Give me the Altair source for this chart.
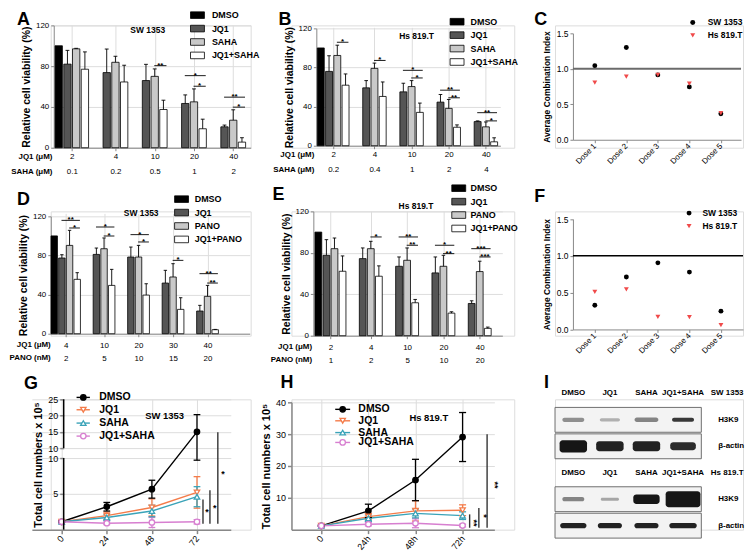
import json

import altair as alt
import pandas as pd

FONT = "Liberation Sans"
ONE = pd.DataFrame({"k": [0]})

# ---------------- A, B, D, E: relative cell viability (%), mean and SD ----------------
bar_colors = ["black", "#555555", "#c9c9c9", "white"]

a_jq1_dose = ["2", "4", "10", "20", "40"]
a_drug_dose = ["0.1", "0.2", "0.5", "1", "2"]
a_dmso = [100]
a_jq1 = [82, 73.7, 65.9, 43.4, 20.5]
a_jq1_sd = [13.5, 23.1, 15.9, 8.4, 1.7]
a_drug = [97, 83.8, 70, 45, 27]
a_drug_sd = [0.5, 5.9, 7.3, 12.7, 10.2]
a_combo = [77, 64.5, 37.5, 18.6, 5.5]
a_combo_sd = [17, 16.4, 9.1, 9.4, 4.3]
# (dose group, first bar, last bar, height, stars); bars: 1 = JQ1, 2 = HDACi, 3 = combination
a_sig = [(2, 2, 3, 80.5, "**"), (3, 1, 3, 70.7, "*"), (3, 2, 3, 60.3, "*"),
         (4, 1, 3, 49.6, "**"), (4, 2, 3, 39.8, "*")]

b_jq1_dose = ["2", "4", "10", "20", "40"]
b_drug_dose = ["0.2", "0.4", "1", "2", "4"]
b_dmso = [100]
b_jq1 = [76, 59.2, 55.1, 44.6, 24.7]
b_jq1_sd = [16, 7.4, 8.8, 7.8, 0.7]
b_drug = [92.3, 79.1, 60.5, 38.2, 19.3]
b_drug_sd = [10.5, 5.4, 6.1, 9.1, 5]
b_combo = [61.9, 50.4, 34.1, 18.9, 4]
b_combo_sd = [11.5, 14.8, 9.5, 2.4, 4.1]
b_sig = [(0, 2, 3, 105.8, "*"), (1, 2, 3, 87.2, "*"), (2, 1, 3, 77.1, "*"), (2, 2, 3, 69.3, "*"),
         (3, 1, 3, 56.8, "**"), (3, 2, 3, 49, "**"), (4, 1, 3, 33.8, "**"), (4, 2, 3, 25.4, "*")]

d_jq1_dose = ["4", "10", "20", "30", "40"]
d_drug_dose = ["2", "5", "10", "15", "20"]
d_dmso = [100]
d_jq1 = [77.4, 81.1, 78.4, 51.8, 23.2]
d_jq1_sd = [3.4, 6.5, 10.2, 13, 5.8]
d_drug = [90.3, 86.9, 78.4, 58, 38.2]
d_drug_sd = [15.4, 11, 11.9, 13.6, 11.2]
d_combo = [55.6, 49.4, 39.5, 24.9, 4.1]
d_combo_sd = [6.8, 16.4, 11.6, 11.9, 0.3]
d_sig = [(0, 1, 3, 115.9, "**"), (0, 2, 3, 108.1, "*"), (1, 1, 3, 109.1, "*"), (1, 2, 3, 99.9, "*"),
         (2, 1, 3, 101.3, "*"), (2, 2, 3, 93.8, "*"), (3, 2, 3, 75, "*"),
         (4, 1, 3, 61.4, "**"), (4, 2, 3, 51.8, "**")]

e_jq1_dose = ["2", "4", "10", "20", "40"]
e_drug_dose = ["1", "2", "5", "10", "20"]
e_dmso = [100]
e_jq1 = [77.6, 74.4, 67, 60.6, 31.1]
e_jq1_sd = [15.1, 10.3, 9, 15.4, 2.6]
e_drug = [84, 84, 72.8, 67, 61.9]
e_drug_sd = [10.3, 7.1, 11.9, 10.6, 10]
e_combo = [62.2, 57.4, 31.8, 21.8, 7.1]
e_combo_sd = [14.8, 10, 3.2, 1.3, 1.2]
e_sig = [(1, 2, 3, 95.3, "*"), (2, 1, 3, 95.3, "**"), (2, 2, 3, 87.3, "**"), (3, 1, 3, 87.3, "*"),
         (3, 2, 3, 79.2, "**"), (4, 1, 3, 84, "***"), (4, 2, 3, 76, "***")]

# ---------------- C, F: average combination index ----------------
ci_doses = [1, 2, 3, 4, 5]
ci_cells = ["SW 1353", "Hs 819.T"]
c_sw = [1.045, 1.30, 0.914, 0.745, 0.366]
c_hs = [0.806, 0.89, 0.914, 0.79, 0.375]
f_sw = [0.329, 0.712, 0.905, 0.779, 0.248]
f_hs = [0.509, 0.545, 0.171, 0.167, 0.059]

# ---------------- G, H: total cell numbers (x 10^5) ----------------
hours = [0, 24, 48, 72]
growth_series = ["DMSO", "JQ1", "SAHA", "JQ1+SAHA"]
growth_colors = ["black", "#f47c4a", "#3aa3b8", "#d77fd0"]
g_mean = [[1.1, 3.2, 5.65, 15.0], [1.1, 1.95, 3.1, 5.2], [1.1, 1.7, 2.6, 4.6], [1.1, 0.9, 1.0, 1.1]]
g_sd = [[0.1, 0.6, 1.25, 5.3], [0.1, 0.5, 1.2, 2.2], [0.1, 0.4, 0.8, 1.4], [0.1, 0.2, 0.7, 0.3]]
g_sig = [(0.83, 4.2, "*"), (0.83, 5.5, "*"), (0.83, 14.9, "*")]
h_mean = [[1.2, 5.9, 15.6, 29.1], [1.2, 4.1, 5.9, 6.1], [1.2, 3.6, 5.1, 4.4], [1.2, 1.7, 2.0, 1.3]]
h_sd = [[0.2, 2.1, 6.5, 7.7], [0.2, 1.0, 3.2, 1.7], [0.2, 1.0, 1.4, 1.2], [0.2, 0.5, 1.4, 0.4]]
h_sig = [(0.6, 4.8, "**"), (0.6, 6.8, "*"), (0.6, 30.0, "**")]

# ---------------- I: western blot ----------------
blot_lanes = ["DMSO", "JQ1", "SAHA", "JQ1+SAHA"]
blot_cells = ["SW 1353", "Hs 819.T"]
blot_targets = ["H3K9", "β-actin", "H3K9", "β-actin"]
band_dark = [[0.45, 0.3, 0.5, 0.85], [1.0, 0.95, 0.95, 0.9], [0.5, 0.35, 1.0, 1.0], [0.95, 0.95, 0.95, 0.95]]
band_wide = [[0.6, 0.55, 0.65, 0.6], [0.75, 0.75, 0.75, 0.7], [0.6, 0.5, 0.72, 0.95], [0.72, 0.66, 0.66, 0.75]]
band_thick = [[0.16, 0.13, 0.17, 0.15], [0.46, 0.38, 0.38, 0.3], [0.16, 0.12, 0.36, 0.6], [0.2, 0.2, 0.2, 0.2]]

SWATCH = "M-2,-0.95H2V0.95H-2Z"


def letter_mark(letter, dx, dy):
    return alt.Chart(ONE).mark_text(
        text=letter, font=FONT, fontSize=18, fontWeight="bold", align="left", baseline="alphabetic", color="black"
    ).encode(x=alt.value(dx), y=alt.value(dy))


def bar_panel(letter, cell, drug, unit, jq1_dose, drug_dose, dmso, means, sds, sig, g):
    names = ["DMSO", "JQ1", drug, "JQ1+" + drug]
    rows = [dict(grp=0, slot=0, trt=names[0], mean=dmso[0], sd=0.0)]
    for s in range(3):
        for k in range(len(jq1_dose)):
            rows.append(dict(grp=k, slot=s + 1, trt=names[s + 1], mean=means[s][k], sd=sds[s][k]))
    df = pd.DataFrame(rows)
    sig_df = pd.DataFrame(sig, columns=["grp", "s0", "s1", "level", "label"])

    ticks = [1.5] + [k * 4.5 + 2 for k in range(1, len(jq1_dose))]
    labels = json.dumps([[a, b] for a, b in zip(jq1_dose, drug_dose)])
    x_axis = alt.Axis(
        values=ticks, labelExpr=f"{labels}[indexof({json.dumps(ticks)}, datum.value)]",
        labelFontSize=g["fs"], labelLineHeight=g["lh"], labelPadding=g["lp"], labelOverlap=False,
        labelFlush=False, tickSize=3, offset=g["xoff"], title=None,
    )
    y_axis = alt.Axis(values=[0, 40, 80, 120], title="Relative cell viability (%)", titleFontSize=10.5,
                      labelFontSize=g["fs"], tickSize=3, offset=-g["xr"][0], titlePadding=4)
    xs = alt.Scale(domain=g["xdom"], range=g["xr"], nice=False, zero=False)
    ys = alt.Scale(domain=[0, 120], range=g["yr"], nice=False, zero=False)

    def X(f):
        return alt.X(f"{f}:Q", scale=xs, axis=x_axis)

    def Y(f):
        return alt.Y(f"{f}:Q", scale=ys, axis=y_axis)

    base = alt.Chart(df).transform_calculate(pos="datum.grp * 4.5 + datum.slot").transform_calculate(
        x0="datum.pos - 0.42", x1="datum.pos + 0.42", top="datum.mean + datum.sd",
        c0="datum.pos - 0.22", c1="datum.pos + 0.22")
    legend = alt.Legend(orient="none", legendX=g["lx"], legendY=g["ly"], title=None, symbolType=SWATCH,
                        symbolSize=49, symbolStrokeColor="black", symbolStrokeWidth=0.8, labelFontSize=9,
                        labelFont=FONT, labelFontWeight="bold", labelOffset=g["lo"], rowPadding=2.5, padding=0)
    bars = base.mark_rect(stroke="black", strokeWidth=0.8).encode(
        x=X("x0"), x2="x1:Q", y=Y("mean"), y2=alt.datum(0),
        fill=alt.Fill("trt:N", scale=alt.Scale(domain=names, range=bar_colors), legend=legend))
    err = base.transform_filter("datum.sd > 0").mark_rule(color="black", strokeWidth=0.9).encode(
        x=X("pos"), y=Y("mean"), y2="top:Q")
    caps = base.transform_filter("datum.sd > 0").mark_rule(color="black", strokeWidth=0.9).encode(
        x=X("c0"), x2="c1:Q", y=Y("top"))
    sb = alt.Chart(sig_df).transform_calculate(
        p0="datum.grp * 4.5 + datum.s0 - 0.05", p1="datum.grp * 4.5 + datum.s1 + 0.35").transform_calculate(
        pm="(datum.p0 + datum.p1) / 2")
    sig_lines = sb.mark_rule(color="black", strokeWidth=0.9).encode(x=X("p0"), x2="p1:Q", y=Y("level"))
    stars = sb.mark_text(font=FONT, fontSize=8, fontWeight="bold", baseline="alphabetic", dy=2).encode(
        x=X("pm"), y=Y("level"), text="label:N")
    cell_txt = alt.Chart(ONE).mark_text(text=cell, font=FONT, fontSize=8.5, fontWeight="bold").encode(
        x=alt.X(datum=g["cell"][0], scale=xs, axis=x_axis), y=alt.Y(datum=g["cell"][1], scale=ys, axis=y_axis))
    header = alt.Chart(ONE).mark_text(
        text=["JQ1 (μM)", f"{drug} ({unit})"], lineHeight=g["lh"], font=FONT, fontSize=g["fs"],
        fontWeight="bold", align="right", baseline="top").encode(
        x=alt.value(g["tx"]), y=alt.value(g["yr"][0] + 3 + g["lp"]))
    return alt.layer(bars, err, caps, sig_lines, stars, cell_txt, header,
                     letter_mark(letter, *g["letter"])).properties(width=g["w"], height=g["h"])


def ci_panel(letter, sw, hs, line_color, line_width, g):
    df = pd.DataFrame({"dose": ci_doses * 2, "ci": sw + hs,
                       "cell": [ci_cells[0]] * len(sw) + [ci_cells[1]] * len(hs)})
    xs = alt.Scale(domain=g["xdom"], range=g["xr"], nice=False, zero=False)
    ys = alt.Scale(domain=[0, 1.5], range=g["yr"], nice=False, zero=False)
    x_axis = alt.Axis(values=ci_doses, labelExpr="'Dose ' + datum.value", labelAngle=-45, labelAlign="right",
                      labelBaseline="middle", labelFontSize=8, labelPadding=2, tickSize=3, offset=g["xoff"],
                      title=None, labelFlush=False, labelOverlap=False)
    y_axis = alt.Axis(values=[0, 0.5, 1.0, 1.5], format=".1f", title="Average Combination Index",
                      titleFontSize=8.5, labelFontSize=8.5, tickSize=3, offset=-g["xr"][0], titlePadding=5)
    legend = alt.Legend(orient="none", legendX=g["lx"], legendY=g["ly"], title=None, symbolSize=25,
                        labelFontSize=8.5, labelFont=FONT, labelFontWeight="bold", labelOffset=g["lo"],
                        rowPadding=4, padding=0)
    hline = alt.Chart(ONE).mark_rule(color=line_color, strokeWidth=line_width).encode(
        x=alt.X(datum=g["xdom"][0], scale=xs, axis=x_axis), x2=alt.datum(g["xdom"][1]),
        y=alt.Y(datum=1.0, scale=ys, axis=y_axis))
    pts = alt.Chart(df).mark_point(filled=True, size=24, opacity=1).encode(
        x=alt.X("dose:Q", scale=xs, axis=x_axis), y=alt.Y("ci:Q", scale=ys, axis=y_axis),
        color=alt.Color("cell:N", scale=alt.Scale(domain=ci_cells, range=["black", "#f04a4a"]), legend=legend),
        shape=alt.Shape("cell:N", scale=alt.Scale(domain=ci_cells, range=["circle", "triangle-down"]),
                        legend=legend))
    return alt.layer(hline, pts, letter_mark(letter, *g["letter"])).properties(width=g["w"], height=g["h"])


def growth_panel(letter, cell, hour_expr, means, sds, sig, g):
    rows = []
    for s, name in enumerate(growth_series):
        for i, hr in enumerate(hours):
            rows.append(dict(series=name, hour=hr, mean=means[s][i], sd=sds[s][i]))
    df = pd.DataFrame(rows)
    xs = alt.Scale(domain=g["xdom"], range=g["xr"], nice=False, zero=False)
    ys = alt.Scale(domain=g["ydom"], range=g["yr"], nice=False, zero=False)
    x_axis = alt.Axis(values=hours, labelExpr=hour_expr, labelAngle=-50, labelAlign="right",
                      labelBaseline="middle", labelFontSize=9, labelPadding=3, tickSize=4, tickWidth=1.5,
                      domainWidth=1.5, title=None, labelFlush=False, labelOverlap=False)
    y_axis = alt.Axis(values=g["yticks"], labelExpr="format(floor(datum.value), 'd')",
                      title="Total cell numbers x 10⁵", titleFontSize=11, labelFontSize=9, tickSize=4,
                      tickWidth=1.5, domain=g["ydomain"], domainWidth=1.5, offset=g["yoff"], titlePadding=4,
                      labelOverlap=False)

    def X(f):
        return alt.X(f"{f}:Q", scale=xs, axis=x_axis)

    def Y(f):
        return alt.Y(f"{f}:Q", scale=ys, axis=y_axis)

    def XD(v):
        return alt.X(datum=v, scale=xs, axis=x_axis)

    def YD(v):
        return alt.Y(datum=v, scale=ys, axis=y_axis)

    stroke = alt.Stroke("series:N", scale=alt.Scale(domain=growth_series, range=growth_colors), legend=None)
    fill = alt.Fill("series:N", scale=alt.Scale(domain=growth_series, range=["black", "white", "white", "white"]),
                    legend=None)
    shape = alt.Shape("series:N", scale=alt.Scale(domain=growth_series,
                                                  range=["circle", "triangle-down", "triangle-up", "circle"]),
                      legend=None)
    base = alt.Chart(df).transform_calculate(
        lo="datum.mean - datum.sd", hi="datum.mean + datum.sd", c0="datum.hour - 1.8", c1="datum.hour + 1.8")
    lines = base.mark_line(strokeWidth=1.4).encode(x=X("hour"), y=Y("mean"), stroke=stroke)
    err = base.mark_rule(strokeWidth=1.3).encode(x=X("hour"), y=Y("lo"), y2="hi:Q", stroke=stroke)
    cap_hi = base.mark_rule(strokeWidth=1.3).encode(x=X("c0"), x2="c1:Q", y=Y("hi"), stroke=stroke)
    cap_lo = base.mark_rule(strokeWidth=1.3).encode(x=X("c0"), x2="c1:Q", y=Y("lo"), stroke=stroke)
    pts = base.mark_point(filled=True, size=30, opacity=1, strokeWidth=1.3).encode(
        x=X("hour"), y=Y("mean"), stroke=stroke, fill=fill, shape=shape)

    sig_df = pd.DataFrame(sig, columns=["lo", "hi", "label"])
    sig_df["bx"] = g["sig_x"]
    sig_df["sx"] = g["star_x"]
    sig_df["sy"] = g["star_y"]
    sig_bars = alt.Chart(sig_df).mark_rule(color="#333333", strokeWidth=1.4).encode(
        x=X("bx"), y=Y("lo"), y2="hi:Q")
    sig_txt = alt.Chart(sig_df).mark_text(font=FONT, fontSize=9, fontWeight="bold", angle=g["star_angle"]).encode(
        x=X("sx"), y=Y("sy"), text="label:N")

    leg = pd.DataFrame({"series": growth_series, "yy": g["leg_y"]})
    lx0, lx1, lxm, lxt = g["leg_x"]
    leg_line = alt.Chart(leg).mark_rule(strokeWidth=1.4).encode(
        x=XD(lx0), x2=alt.datum(lx1), y=Y("yy"), stroke=stroke)
    leg_pt = alt.Chart(leg).mark_point(filled=True, size=30, opacity=1, strokeWidth=1.3).encode(
        x=XD(lxm), y=Y("yy"), stroke=stroke, fill=fill, shape=shape)
    leg_txt = alt.Chart(leg).mark_text(font=FONT, fontSize=10.5, fontWeight="bold", align="left").encode(
        x=XD(lxt), y=Y("yy"), text="series:N")
    cell_txt = alt.Chart(ONE).mark_text(text=cell, font=FONT, fontSize=9.5, fontWeight="bold").encode(
        x=XD(g["cell"][0]), y=YD(g["cell"][1]))

    layers = [lines, err, cap_hi, cap_lo, pts, sig_bars, sig_txt, leg_line, leg_pt, leg_txt, cell_txt]
    if g.get("axis_at") is not None:
        seg = pd.DataFrame({"lo": [g["ydom"][0], g["ydom"][2]], "hi": [g["ydom"][1], g["ydom"][3]]})
        layers.append(alt.Chart(seg).mark_rule(color="black", strokeWidth=1.5).encode(
            x=XD(g["axis_at"]), y=Y("lo"), y2="hi:Q"))
    layers.append(letter_mark(letter, *g["letter"]))
    return alt.layer(*layers).properties(width=g["w"], height=g["h"])


def blot_panel(letter, g):
    strip_rows = [1, 2, 4, 5]
    header_rows = [0, 3]
    strips = pd.DataFrame({"row": strip_rows, "target": blot_targets})
    bands = pd.DataFrame([
        dict(row=strip_rows[r], lane=l, dark=band_dark[r][l], wide=band_wide[r][l], thick=band_thick[r][l])
        for r in range(len(strip_rows)) for l in range(len(blot_lanes))])
    heads = pd.DataFrame([dict(row=header_rows[c], lane=l, name=blot_lanes[l])
                          for c in range(len(blot_cells)) for l in range(len(blot_lanes))])
    cells = pd.DataFrame({"row": header_rows, "cell": blot_cells})
    xs = alt.Scale(domain=[-0.5, 4.64], range=[0, g["w"]], nice=False, zero=False)
    ys = alt.Scale(domain=[0, 5], range=[-6, 127], nice=False, zero=False)

    def X(f):
        return alt.X(f"{f}:Q", scale=xs, axis=None)

    def Y(f):
        return alt.Y(f"{f}:Q", scale=ys, axis=None)

    def XD(v):
        return alt.X(datum=v, scale=xs, axis=None)

    boxes = alt.Chart(strips).transform_calculate(y0="datum.row - 0.47", y1="datum.row + 0.47").mark_rect(
        fill="#f3f3f3", stroke="#6e6e6e", strokeWidth=1).encode(
        x=XD(-0.5), x2=alt.datum(len(blot_lanes) - 0.5), y=Y("y0"), y2="y1:Q")
    band = alt.Chart(bands).transform_calculate(
        x0="datum.lane - datum.wide / 2", x1="datum.lane + datum.wide / 2",
        y0="datum.row - datum.thick / 2", y1="datum.row + datum.thick / 2").mark_rect(
        fill="#161616", cornerRadius=3).encode(
        x=X("x0"), x2="x1:Q", y=Y("y0"), y2="y1:Q", opacity=alt.Opacity("dark:Q", scale=None))
    targets = alt.Chart(strips).mark_text(font=FONT, fontSize=8, fontWeight="bold", align="left").encode(
        x=XD(3.96), y=Y("row"), text="target:N")
    lane_txt = alt.Chart(heads).mark_text(font=FONT, fontSize=8, fontWeight="bold").encode(
        x=X("lane"), y=Y("row"), text="name:N")
    cell_txt = alt.Chart(cells).mark_text(font=FONT, fontSize=8, fontWeight="bold", align="left").encode(
        x=XD(3.76), y=Y("row"), text="cell:N")
    return alt.layer(boxes, band, targets, lane_txt, cell_txt, letter_mark(letter, *g["letter"])).properties(
        width=g["w"], height=g["h"])


W1, W2, W3 = 201, 224, 189
H1, H2, H3 = 123, 125, 131

pA = bar_panel("A", "SW 1353", "SAHA", "μM", a_jq1_dose, a_drug_dose, a_dmso,
               [a_jq1, a_drug, a_combo], [a_jq1_sd, a_drug_sd, a_combo_sd], a_sig,
               dict(w=W1, h=H1, xr=[3, 201], xdom=[-0.57, 22.0], yr=[123, 0], xoff=0, tx=1.7, fs=8, lh=15, lp=2,
                    lx=143, ly=-14.8, lo=10, cell=(10.2, 115), letter=(-34, 0)))
pB = bar_panel("B", "Hs 819.T", "SAHA", "μM", b_jq1_dose, b_drug_dose, b_dmso,
               [b_jq1, b_drug, b_combo], [b_jq1_sd, b_drug_sd, b_combo_sd], b_sig,
               dict(w=W2, h=H1, xr=[25, 210], xdom=[-0.54, 21.75], yr=[121, 3], xoff=-2, tx=23, fs=8, lh=15, lp=2,
                    lx=162, ly=-8.2, lo=9, cell=(11.6, 112.6), letter=(-13, 0)))
pC = ci_panel("C", c_sw, c_hs, "#6b6b6b", 2,
              dict(w=W3, h=H1, xr=[18, 187], xdom=[0.306, 5.64], yr=[115, 8], xoff=-8,
                   lx=134.2, ly=-7.2, lo=10.8, letter=(-21, 0)))
pD = bar_panel("D", "SW 1353", "PANO", "nM", d_jq1_dose, d_drug_dose, d_dmso,
               [d_jq1, d_drug, d_combo], [d_jq1_sd, d_drug_sd, d_combo_sd], d_sig,
               dict(w=W1, h=H2, xr=[0, 200], xdom=[-0.45, 25.5], yr=[123, 5], xoff=-2, tx=0, fs=8, lh=13, lp=4.5,
                    lx=127, ly=-16.8, lo=8.7, cell=(11.35, 123.1), letter=(-34, -6)))
pE = bar_panel("E", "Hs 819.T", "PANO", "nM", e_jq1_dose, e_drug_dose, e_dmso,
               [e_jq1, e_drug, e_combo], [e_jq1_sd, e_drug_sd, e_combo_sd], e_sig,
               dict(w=W2, h=H2, xr=[22, 212], xdom=[-0.62, 22.8], yr=[125, 0], xoff=0, tx=20.7, fs=8, lh=13, lp=4.5,
                    lx=163.7, ly=-27.8, lo=7.3, cell=(12.1, 124.8), letter=(-19, -11)))
pF = ci_panel("F", f_sw, f_hs, "black", 1.5,
              dict(w=W3, h=H2, xr=[18, 189], xdom=[0.306, 5.70], yr=[118.7, 7.7], xoff=-6.3,
                   lx=130.5, ly=-2.5, lo=9.2, letter=(-21, -9)))
pG = growth_panel("G", "SW 1353", "datum.label", g_mean, g_sd, g_sig,
                  dict(w=W1, h=H3, xr=[-19, 181], xdom=[-15.88, 90.0], ydom=[0, 10, 10.01, 25],
                       yr=[131, 59, 49, 0], yticks=[5, 10, 10.01, 15, 20, 25], ydomain=False, yoff=-13,
                       axis_at=1.06,
                       sig_x=[75.2, 78.9, 83.1], star_x=[77.3, 81.5, 85.8], star_y=[2.4, 3.05, 7.8], star_angle=0,
                       leg_y=[25.6, 21.8, 17.7, 13.7], leg_x=(7.9, 15.0, 11.5, 20.0), cell=(54.8, 19.8),
                       letter=(-27, -10)))
pH = growth_panel("H", "Hs 819.T", "datum.value == 0 ? '0' : datum.value + 'h'", h_mean, h_sd, h_sig,
                  dict(w=W2, h=H3, xr=[0, 204], xdom=[-15.2, 88.2], ydom=[0, 40], yr=[131, 3],
                       yticks=[10, 20, 30, 40], ydomain=True, yoff=0, axis_at=None,
                       sig_x=[75.6, 80.3, 84.5], star_x=[77.6, 83.1, 88.6], star_y=[2.1, 4.3, 14], star_angle=90,
                       leg_y=[37.8, 34.2, 30.5, 27.4], leg_x=(7.1, 14.7, 10.9, 18.9), cell=(54.8, 35.2),
                       letter=(-11, -11)))
pI = blot_panel("I", dict(w=W3, h=H3, letter=(-11, -11)))

chart = alt.concat(
    pA, pB, pC, pD, pE, pF, pG, pH, pI,
    columns=3, spacing={"row": 64, "column": 41}, bounds="flush", align="each", padding=0,
).resolve_scale(
    fill="independent", stroke="independent", color="independent", shape="independent",
).resolve_legend(
    fill="independent", color="independent", shape="independent",
).configure_view(stroke=None).configure_axis(
    grid=False, domainColor="black", tickColor="black", labelColor="black", titleColor="black",
    labelFont=FONT, titleFont=FONT, labelFontWeight="bold", titleFontWeight="bold",
    domainWidth=1.2, tickWidth=1.2,
).configure_legend(labelFont=FONT, labelFontWeight="bold", labelColor="black").configure(
    background="white", font=FONT)

chart.save("out.html", embed_options={"renderer": "svg", "actions": False})
